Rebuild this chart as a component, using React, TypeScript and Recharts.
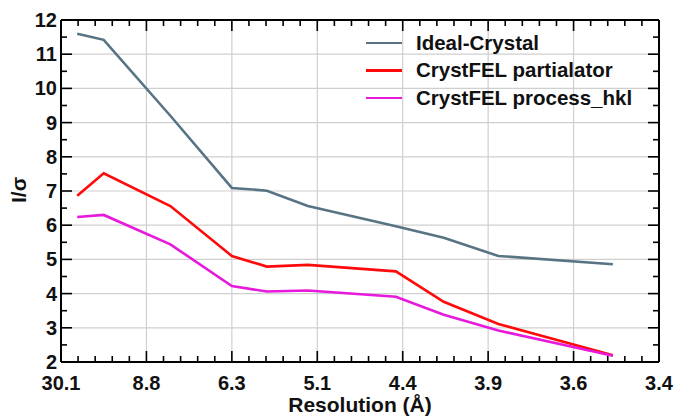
import React from "react";
import {
  LineChart,
  Line,
  XAxis,
  YAxis,
  CartesianGrid,
  Legend,
  Label,
  ReferenceLine,
} from "recharts";

// x position in evenly spaced tick units (0 = 30.1 Å ... 7 = 3.4 Å)
const shellPos = [0.19, 0.5, 1.28, 2.0, 2.41, 2.89, 3.92, 4.48, 5.12, 6.46];
const idealCrystal = [11.6, 11.42, 9.2, 7.09, 7.01, 6.56, 5.97, 5.63, 5.1, 4.86];
const partialator = [6.86, 7.52, 6.56, 5.1, 4.79, 4.84, 4.65, 3.76, 3.11, 2.2];
const processHkl = [6.24, 6.3, 5.44, 4.22, 4.06, 4.09, 3.91, 3.38, 2.92, 2.18];

const xTickLabels = ["30.1", "8.8", "6.3", "5.1", "4.4", "3.9", "3.6", "3.4"];
const xMajor = [0, 1, 2, 3, 4, 5, 6, 7];
const yMajor = [2, 3, 4, 5, 6, 7, 8, 9, 10, 11, 12];

const data = shellPos.map((x, i) => ({
  x,
  ideal: idealCrystal[i],
  part: partialator[i],
  hkl: processHkl[i],
}));

const series = [
  { key: "ideal", name: "Ideal-Crystal", color: "#587484" },
  { key: "part", name: "CrystFEL partialator", color: "#ff0a0a" },
  { key: "hkl", name: "CrystFEL process_hkl", color: "#e619dc" },
];

// all tick positions (major + minor)
const xAllTicks: number[] = [];
for (let k = 0; k <= 35; k++) xAllTicks.push(k / 5);
const yAllTicks: number[] = [];
for (let k = 4; k <= 24; k++) yAllTicks.push(k / 2);

const FONT = "'Liberation Sans', Arial, Helvetica, sans-serif";
// inward tick lengths: px -> data units (~85.4 px per x unit, ~34.2 px per y unit)
const PX_X = 85.4;
const PX_Y = 34.2;
const isInt = (v: number) => Math.abs(v - Math.round(v)) < 1e-6;
const tickLen = (v: number) => (isInt(v) ? 11 : 6);

function BottomLabel({ x, y, payload }: any) {
  return (
    <text x={x} y={y + 28} textAnchor="middle" fontSize={20} fontWeight={700} fill="#111" fontFamily={FONT}>
      {xTickLabels[Math.round(payload.value)]}
    </text>
  );
}

function LeftLabel({ x, y, payload }: any) {
  return (
    <text x={x - 4} y={y + 7} textAnchor="end" fontSize={20} fontWeight={700} fill="#111" fontFamily={FONT}>
      {payload.value}
    </text>
  );
}

function LegendBox() {
  return (
    <div style={{ fontFamily: FONT }}>
      {series.map((s) => (
        <div key={s.key} style={{ display: "flex", alignItems: "center", height: 27.5 }}>
          <span style={{ display: "inline-block", width: 36, height: 2.5, background: s.color, marginRight: 14 }} />
          <span style={{ fontSize: 20.5, fontWeight: 700, color: "#111", whiteSpace: "nowrap" }}>{s.name}</span>
        </div>
      ))}
    </div>
  );
}

const AXIS_LINE = { stroke: "#000", strokeWidth: 2 };
const xCommon = { dataKey: "x", type: "number" as const, domain: [0, 7], interval: 0 as const, height: 1, tickLine: false };
const yCommon = { type: "number" as const, domain: [2, 12], interval: 0 as const, width: 1, tickLine: false };

function tickSeg(key: string, a: { x: number; y: number }, b: { x: number; y: number }) {
  return (
    <ReferenceLine
      key={key}
      xAxisId="b"
      yAxisId="l"
      segment={[a, b]}
      stroke="#000"
      strokeWidth={1.6}
      ifOverflow="visible"
    />
  );
}

export default function App() {
  return (
    <div style={{ position: "absolute", left: 0, top: 0, width: 680, height: 420, background: "#fff", fontFamily: FONT }}>
      <LineChart width={680} height={420} data={data} margin={{ top: 19, right: 20, bottom: 57, left: 60 }}>
        <CartesianGrid
          xAxisId="b"
          yAxisId="l"
          stroke="#cfcfcf"
          strokeWidth={1.2}
          horizontalValues={[3, 4, 5, 6, 7, 8, 9, 10, 11]}
          verticalValues={[1, 2, 3, 4, 5, 6]}
        />
        <XAxis {...xCommon} xAxisId="b" ticks={xMajor} tickSize={0} tickMargin={0}
          tick={<BottomLabel />} axisLine={AXIS_LINE}>
          <Label
            content={() => (
              <text x={360} y={412} textAnchor="middle" fontSize={21} fontWeight={700} fill="#111" fontFamily={FONT}>
                Resolution (Å)
              </text>
            )}
          />
        </XAxis>
        <XAxis {...xCommon} xAxisId="t" orientation="top" ticks={xMajor} tick={false} axisLine={AXIS_LINE} />
        <YAxis {...yCommon} yAxisId="l" ticks={yMajor} tickSize={0} tickMargin={0}
          tick={<LeftLabel />} axisLine={AXIS_LINE}>
          <Label
            content={() => (
              <text x={0} y={0} transform="translate(26 190) rotate(-90)" textAnchor="middle"
                fontSize={21} fontWeight={700} fill="#111" fontFamily={FONT}>
                I/σ
              </text>
            )}
          />
        </YAxis>
        <YAxis {...yCommon} yAxisId="r" orientation="right" ticks={yMajor} tick={false} axisLine={AXIS_LINE} />

        {xAllTicks.map((v) => tickSeg(`b${v}`, { x: v, y: 2 }, { x: v, y: 2 + tickLen(v) / PX_Y }))}
        {xAllTicks.map((v) => tickSeg(`t${v}`, { x: v, y: 12 }, { x: v, y: 12 - tickLen(v) / PX_Y }))}
        {yAllTicks.map((v) => tickSeg(`l${v}`, { x: 0, y: v }, { x: tickLen(v) / PX_X, y: v }))}
        {yAllTicks.map((v) => tickSeg(`r${v}`, { x: 7, y: v }, { x: 7 - tickLen(v) / PX_X, y: v }))}

        <Legend
          layout="vertical"
          verticalAlign="middle"
          align="center"
          wrapperStyle={{ left: 366, top: 29, width: 300 }}
          content={<LegendBox />}
        />
        {series.map((s) => (
          <Line
            key={s.key}
            xAxisId="b"
            yAxisId="l"
            dataKey={s.key}
            name={s.name}
            stroke={s.color}
            strokeWidth={2.6}
            dot={false}
            isAnimationActive={false}
          />
        ))}
      </LineChart>
    </div>
  );
}
